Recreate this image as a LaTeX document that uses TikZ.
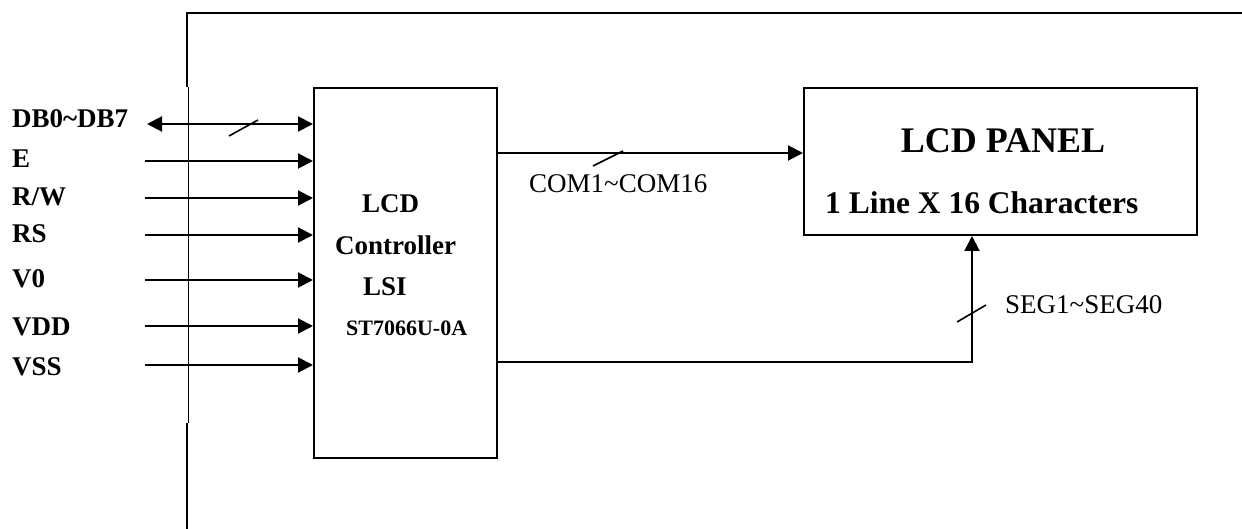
\documentclass[tikz,border=0pt]{standalone}
\usepackage{fontspec}
\setmainfont{Liberation Serif}
\usetikzlibrary{arrows.meta}
\tikzset{
  box/.style={draw, line width=2pt, inner sep=0pt, anchor=north west},
  sig/.style={line width=2pt, -{Triangle[length=15pt,width=15pt]}},
  bisig/.style={line width=2pt, {Triangle[length=15pt,width=15pt]}-{Triangle[length=15pt,width=15pt]}},
  tick/.style={line width=1.6pt},
  lbl/.style={anchor=base west, inner sep=0pt, font=\fontsize{27}{30}\selectfont\bfseries},
  rlbl/.style={anchor=base west, inner sep=0pt, font=\fontsize{27}{30}\selectfont},
}
\begin{document}
\begin{tikzpicture}[x=1pt,y=-1pt]
\useasboundingbox (0,0) rectangle (1242,529);
% frame
\draw[line width=2pt] (1243,13.5) -- (187,13.5) -- (187,87);
\draw[line width=1pt] (188,87) -- (188,423);
\draw[line width=2pt] (187,423) -- (187,530);
% boxes
\node[box, minimum width=183pt, minimum height=370pt] (ctrl) at (313,87) {};
\node[box, minimum width=393pt, minimum height=147pt] (panel) at (803,87) {};
% controller text
\node[lbl] (t1) at (362,213) {LCD};
\node[lbl] (t2) at (335,255) {Controller};
\node[lbl] (t3) at (363,295) {LSI};
\node[lbl, font=\fontsize{22}{26}\selectfont\bfseries] (t4) at (346,335) {ST7066U-0A};
% panel text
\node[anchor=base, inner sep=0pt, font=\fontsize{36}{40}\selectfont\bfseries] (p1) at (1003,153) {LCD PANEL};
\node[anchor=base west, inner sep=0pt, font=\fontsize{31.5}{36}\selectfont\bfseries] (p2) at (825,214) {1 Line X 16 Characters};
% input labels
\node[lbl] (lDB) at (12,128) {DB0\textasciitilde DB7};
\node[lbl] (lE) at (12,168) {E};
\node[lbl] (lRW) at (12,206) {R/W};
\node[lbl] (lRS) at (12,243) {RS};
\node[lbl] (lV0) at (12,288) {V0};
\node[lbl] (lVDD) at (12,335) {VDD};
\node[lbl] (lVSS) at (12,375) {VSS};
% input arrows
\coordinate (iDB) at (147,124);
\coordinate (iE) at (145,161);
\coordinate (iRW) at (145,198);
\coordinate (iRS) at (145,235);
\coordinate (iV0) at (145,280);
\coordinate (iVDD) at (145,326);
\coordinate (iVSS) at (145,365);
\draw[bisig] (iDB) -- (iDB -| ctrl.west);
\foreach \c in {iE,iRW,iRS,iV0,iVDD,iVSS} \draw[sig] (\c) -- (\c -| ctrl.west);
\draw[tick] (229,136) -- (258,120);
% COM bus
\coordinate (com) at (496,153);
\draw[sig] (com -| ctrl.east) -- (com -| panel.west);
\draw[tick] (593,166) -- (623,151);
\node[rlbl] (lcom) at (529,193) {COM1\textasciitilde COM16};
% SEG bus
\coordinate (seg) at (972,362);
\draw[sig] (seg -| ctrl.east) -- (seg) -- (seg |- panel.south);
\draw[tick] (957,322) -- (986,305);
\node[rlbl] (lseg) at (1005,313) {SEG1\textasciitilde SEG40};
\end{tikzpicture}
\end{document}
